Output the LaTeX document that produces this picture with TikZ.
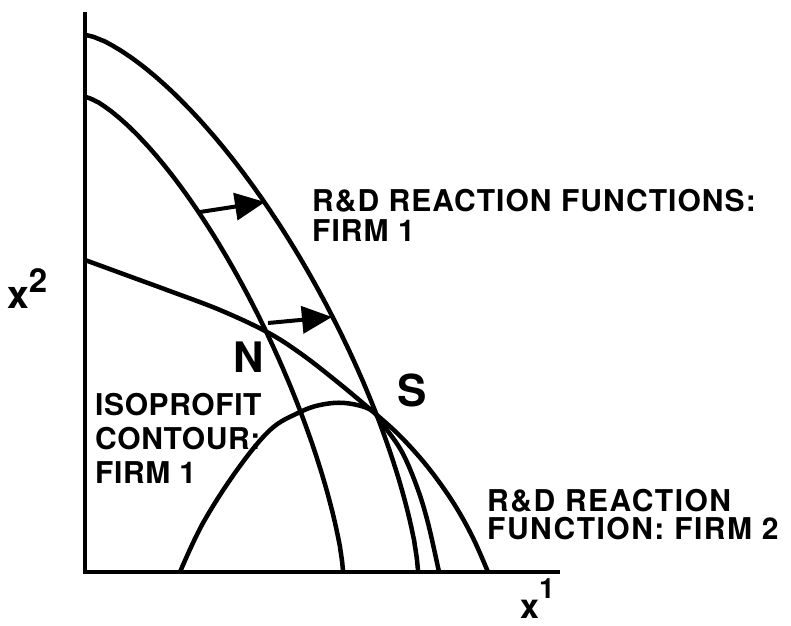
\documentclass[tikz,border=0pt]{standalone}
\usepackage{fontspec}
\setmainfont{TeX Gyre Heros}
\usetikzlibrary{arrows.meta}
\begin{document}
\begin{tikzpicture}[x=1pt,y=-1pt,
  curve/.style={line width=4.5pt},
  axisline/.style={line width=4pt},
  shiftarrow/.style={line width=4pt,-{Triangle[length=30pt,width=27pt]}},
  lbl/.style={inner sep=0pt, align=left, anchor=north west},
  ptlbl/.style={font=\bfseries\fontsize{42}{42}\selectfont, inner sep=0pt, anchor=north west},
  axlbl/.style={font=\bfseries, inner sep=0pt, anchor=base west}]
\useasboundingbox (0,0) rectangle (791,625);
% axes
\coordinate (top) at (85,12);
\coordinate (origin) at (85,572);
\coordinate (right) at (560,572);
\draw[axisline] (top) -- (origin) -- (right);
% outer R&D reaction function, firm 1
\draw[curve] plot[domain=0.05:89.95, samples=150, variable=\t]
  ({85+333*pow(cos(\t),1.4)}, {572-537*pow(sin(\t),1.4)});
% inner R&D reaction function, firm 1
\draw[curve] plot[domain=0.05:89.95, samples=150, variable=\t]
  ({85+258*pow(cos(\t),1.44)}, {572-475*pow(sin(\t),1.44)});
% R&D reaction function, firm 2
\draw[curve] plot[smooth, tension=0.6] coordinates {(85,260) (126,275) (167,290) (220,310) (267,332) (300,353) (335,380) (371,410) (398,434) (422,460) (442,486) (459,512) (474,540) (488,572)};
% isoprofit contour, firm 1
\draw[curve] plot[smooth, tension=0.6] coordinates {(180,572) (203,523) (237,470) (270,430) (298,413) (320,405) (345,403) (371,410) (384,426) (402,452) (417,487) (428,523) (439,572)};
% shift arrows
\coordinate (a1s) at (200,212);
\coordinate (a1e) at (265,202);
\coordinate (a2s) at (268,323);
\coordinate (a2e) at (332,317);
\draw[shiftarrow] (a1s) -- (a1e);
\draw[shiftarrow] (a2s) -- (a2e);
% labels
\node[lbl, font=\bfseries\fontsize{30}{30}\selectfont\addfontfeature{LetterSpace=3.5}] (rf1) at (312,189) {R\&D REACTION FUNCTIONS:\\FIRM 1};
\node[lbl, font=\bfseries\fontsize{30}{34}\selectfont\addfontfeature{LetterSpace=2}] (iso) at (95,393) {ISOPROFIT\\CONTOUR:\\FIRM 1};
\node[lbl, font=\bfseries\fontsize{30}{28}\selectfont\addfontfeature{LetterSpace=5}] (rf2) at (487,489) {R\&D REACTION\\FUNCTION: FIRM 2};
\node[ptlbl] (N) at (233,342) {N};
\node[ptlbl, font=\bfseries\fontsize{44}{44}\selectfont] (S) at (397,374) {S};
\node[axlbl] (x2) at (7,308) {{\fontsize{39}{39}\selectfont x}\raisebox{16pt}{\fontsize{33}{33}\selectfont 2}};
\node[axlbl] (x1) at (520,618) {{\fontsize{34}{34}\selectfont x}\raisebox{20pt}{\fontsize{28}{28}\selectfont 1}};
\end{tikzpicture}
\end{document}
